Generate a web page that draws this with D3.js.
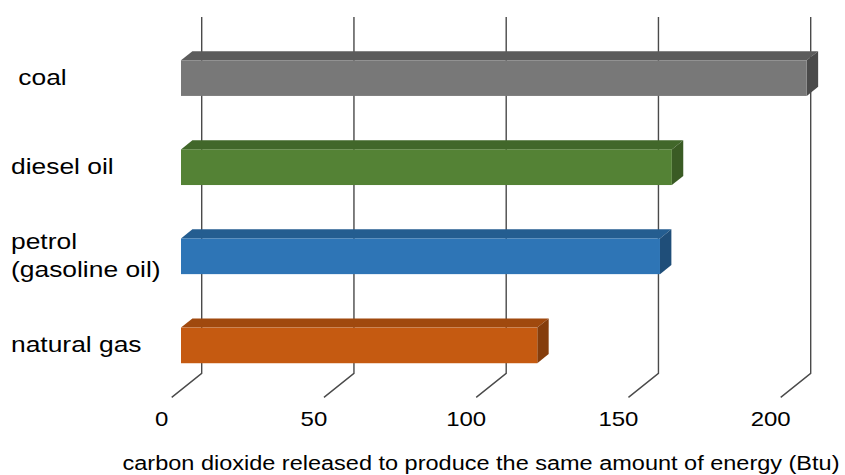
<!DOCTYPE html>
<html>
<head>
<meta charset="utf-8">
<script src="https://cdn.jsdelivr.net/npm/d3@7"></script>
<style>
  html, body { margin: 0; padding: 0; background: #ffffff; }
  svg { display: block; font-family: "Liberation Sans", Arial, sans-serif; }
  text { white-space: pre; }
</style>
</head>
<body>
<svg id="chart" width="845" height="475"></svg>
<script>
// ---- data ----
const categories = ["coal", "diesel oil", "petrol\n(gasoline oil)", "natural gas"];
const categoryLabels = [" coal", "diesel oil", "petrol\n(gasoline oil)", "natural gas"];
const values = [205.5, 161.2, 157.3, 117.0];
const tickValues = [0, 50, 100, 150, 200];
const tickLabels = ["0", "50", "100", "150", "200"];
const axisTitle = "carbon dioxide released to produce the same amount of energy (Btu)";
const frontColors = ["#787878", "#548235", "#2e75b6", "#c55a11"];
const topColors   = ["#5c5c5c", "#41672a", "#245d90", "#a0490e"];
const sideColors  = ["#4a4a4a", "#3a5b24", "#1f4e79", "#853d0c"];

// ---- layout ----
const svg = d3.select("#chart");
const DX = 30, DY = 24;              // full depth offset of the 3D floor
const zFront = 0.31, zBack = 0.69;   // bar depth range
const floorY = 397.4, topY = 41;

const x = d3.scaleLinear().domain([0, 200]).range([171.7, 780.7]);
const y = d3.scaleBand().domain(categories).range([topY, floorY])
  .paddingInner(0.6).paddingOuter(0.3);

const fx = zFront * DX, fy = -zFront * DY;
const bx = zBack * DX,  by = -zBack * DY;

// ---- gridlines (back wall + floor diagonals) ----
const grid = svg.append("g").attr("fill", "none").attr("stroke", "#4a4a4a").attr("stroke-width", 1.4);
grid.selectAll("path").data(tickValues).join("path")
  .attr("d", t => `M${x(t) + DX},${topY - DY} L${x(t) + DX},${floorY - DY} L${x(t)},${floorY}`);

// ---- bars ----
const bars = svg.append("g");
categories.forEach((c, i) => {
  const v = values[i];
  const x0 = x(0), xv = x(v);
  const yt = y(c), yb = y(c) + y.bandwidth();
  const g = bars.append("g");
  g.append("path").attr("fill", topColors[i])
    .attr("d", `M${x0 + fx},${yt + fy} L${xv + fx},${yt + fy} L${xv + bx},${yt + by} L${x0 + bx},${yt + by} Z`);
  g.append("path").attr("fill", sideColors[i])
    .attr("d", `M${xv + fx},${yt + fy} L${xv + bx},${yt + by} L${xv + bx},${yb + by} L${xv + fx},${yb + fy} Z`);
  g.append("rect").attr("fill", frontColors[i])
    .attr("x", x0 + fx).attr("y", yt + fy)
    .attr("width", xv - x0).attr("height", y.bandwidth());
});

// ---- category labels ----
const SX = 1.2; // horizontal stretch of text in the reference
categories.forEach((c, i) => {
  const lines = categoryLabels[i].split("\n");
  const cy = y(c) + y.bandwidth() / 2 + fy;
  lines.forEach((ln, j) => {
    const base = cy + 6.5 + (j - (lines.length - 1) / 2) * 28;
    svg.append("text")
      .attr("transform", `translate(11,${base}) scale(${SX},1)`)
      .attr("font-size", 22).attr("fill", "#000")
      .text(ln);
  });
});

// ---- tick labels ----
svg.append("g").selectAll("text").data(tickValues).join("text")
  .attr("transform", t => `translate(${x(t) - 10},426) scale(${SX},1)`)
  .attr("text-anchor", "middle").attr("font-size", 20).attr("fill", "#000")
  .text((t, i) => tickLabels[i]);

// ---- axis title ----
svg.append("text")
  .attr("transform", `translate(481,470) scale(1.175,1)`)
  .attr("text-anchor", "middle").attr("font-size", 20).attr("fill", "#000")
  .text(axisTitle);
</script>
</body>
</html>
